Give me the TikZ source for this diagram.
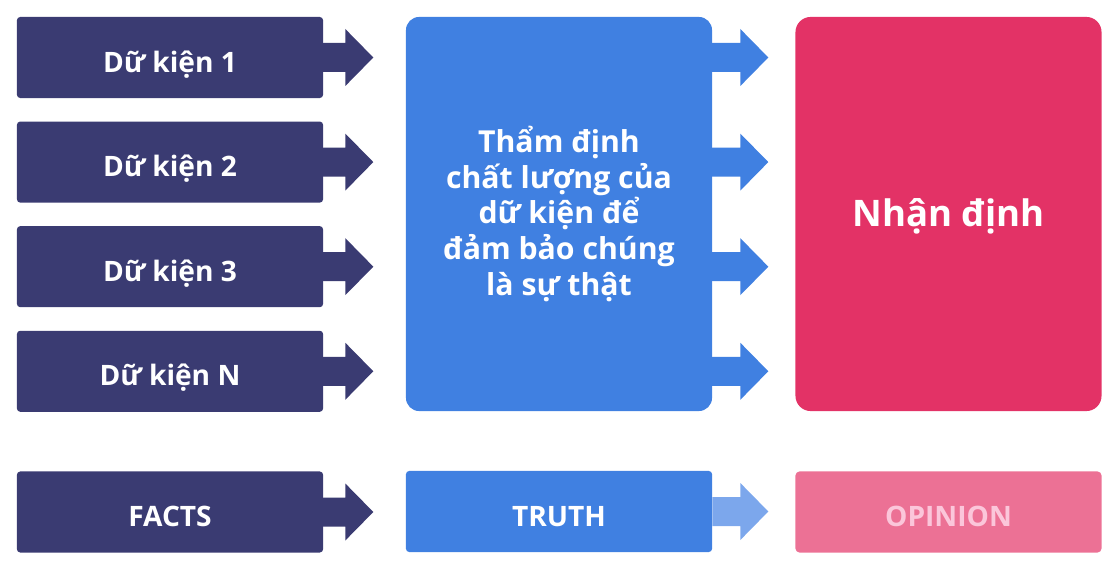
\documentclass[tikz,border=0pt]{standalone}
\usepackage{fontspec}
\setmainfont{Open Sans}
\usetikzlibrary{positioning}

\definecolor{factnavy}{HTML}{3A3B72}
\definecolor{truthblue}{HTML}{4080E1}
\definecolor{opinionpink}{HTML}{E33266}
\definecolor{fadedpink}{HTML}{EC7195}
\definecolor{fadedblue}{HTML}{7CA7EC}
\definecolor{fadedtext}{HTML}{FBC6DA}

\tikzset{
  box/.style={minimum width=7.65cm, minimum height=2.025cm, inner sep=0pt,
    text height=0.725cm, text depth=0pt,
    text=white, font=\bfseries\fontsize{20}{24}\selectfont},
  factbox/.style={box, fill=factnavy, rounded corners=0.08cm},
  bigbox/.style={minimum width=7.65cm, minimum height=9.85cm, inner sep=0pt,
    text=white, align=center},
}

\begin{document}
\begin{tikzpicture}[x=0.025cm, y=-0.025cm, node distance=0.575cm]
  \useasboundingbox (0,0) rectangle (1118,570);

  % Facts
  \node[factbox] (f1) at (170,57.5) {Dữ kiện 1};
  \node[factbox, below=of f1] (f2) {Dữ kiện 2};
  \node[factbox, below=of f2] (f3) {Dữ kiện 3};
  \node[factbox, below=of f3] (fn) {Dữ kiện N};

  % Truth and opinion
  \node[bigbox, fill=truthblue, rounded corners=0.33cm,
    font=\bfseries\fontsize{21.5}{25.3}\selectfont] (truth) at (559,214)
    {Thẩm định\\chất lượng của\\dữ kiện để\\đảm bảo chúng\\là sự thật};
  \node[bigbox, fill=opinionpink, rounded corners=0.38cm,
    text height=0.625cm, text depth=0pt,
    font=\bfseries\fontsize{26}{30}\selectfont] (opinion) at (948.5,214) {Nhận định};

  % Legend row
  \node[factbox] (facts) at (170,512) {FACTS};
  \node[box, fill=truthblue, rounded corners=0.08cm] (truthlbl) at (559,511.5) {TRUTH};
  \node[box, fill=fadedpink, rounded corners=0.1cm, text=fadedtext] (opinionlbl) at (948.5,512) {OPINION};

  % Arrows
  \foreach \n in {f1,f2,f3,fn,facts}
    \fill[factnavy] (\n.east) ++(-1,-14.5) -- ++(23,0) -- ++(0,-14) -- ++(28,28.5)
      -- ++(-28,28.5) -- ++(0,-14) -- ++(-23,0) -- cycle;
  \foreach \n in {f1,f2,f3,fn}
    \fill[truthblue] (truth.east |- \n) ++(-1,-14.5) -- ++(29,0) -- ++(0,-14) -- ++(28,28.5)
      -- ++(-28,28.5) -- ++(0,-14) -- ++(-29,0) -- cycle;
  \fill[fadedblue] (truthlbl.east) ++(0,-14.5) -- ++(28,0) -- ++(0,-14) -- ++(28,28.5)
    -- ++(-28,28.5) -- ++(0,-14) -- ++(-28,0) -- cycle;
\end{tikzpicture}
\end{document}
